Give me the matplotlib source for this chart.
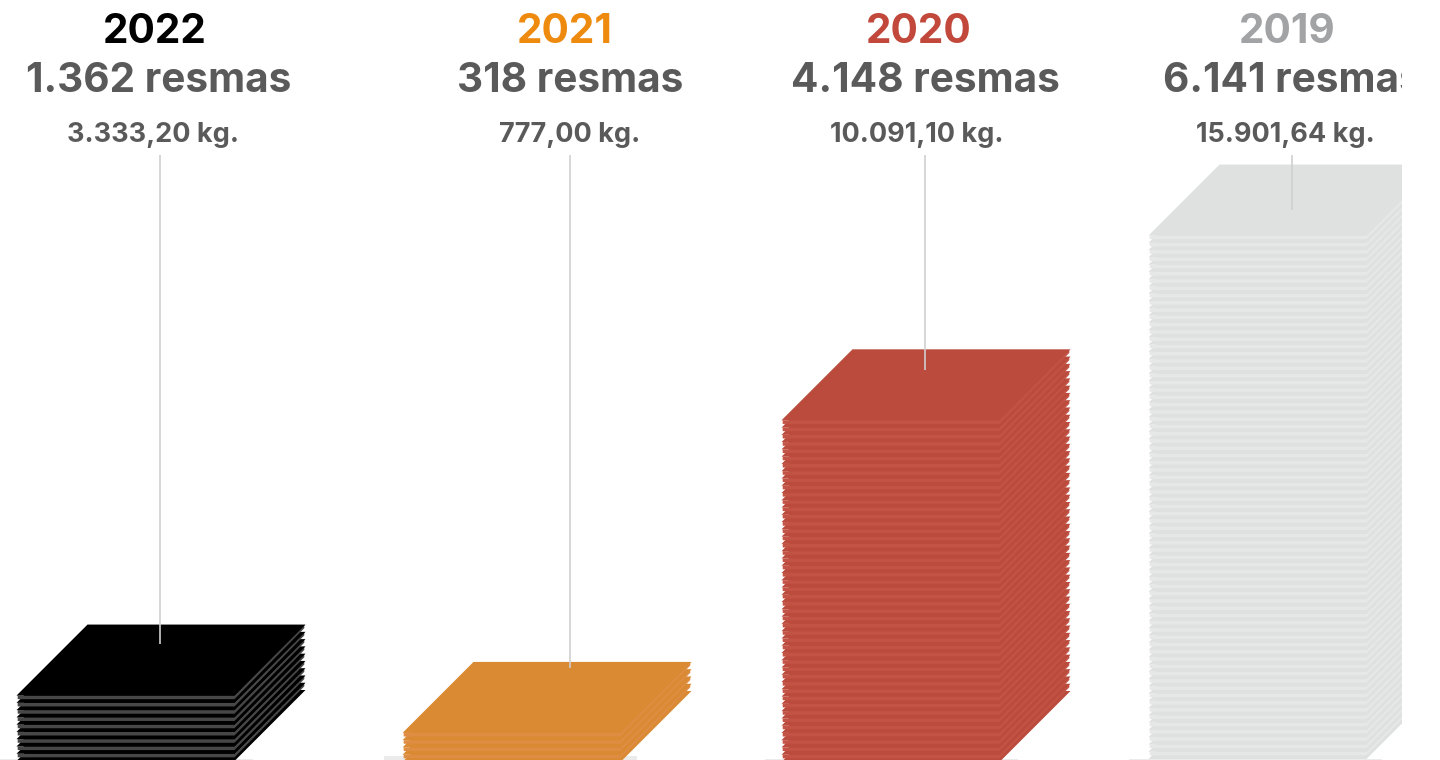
import matplotlib
matplotlib.use("Agg")
import matplotlib.pyplot as plt
from matplotlib.patches import Polygon, Rectangle

# --- data ---
years = ["2022", "2021", "2020", "2019"]
reams = ["1.362 resmas", "318 resmas", "4.148 resmas", "6.141 resmas"]
weights = ["3.333,20 kg.", "777,00 kg.", "10.091,10 kg.", "15.901,64 kg."]
sheets = [10, 5, 48, 73]

# --- layout, all in pixels of the 1440x760 picture ---
left_x = [16.5, 402.5, 781.5, 1148.5]
bottom_y = [761, 762, 762, 759]
shadow_x = [0, 384, 765, 1129]
shadow_y = [758.5, 756, 758.5, 759]
line_x = [160, 570, 925, 1292]
line_end = [644, 668, 370, 210]
year_x = [155, 565, 919, 1287]
ream_x = [159, 570, 925, 1292]
weight_x = [153, 570, 917, 1285]

year_colors = ["#000000", "#ee8a0e", "#c2483b", "#a2a3a5"]
top_colors = ["#000000", "#d98a32", "#bb4b3c", "#dfe1e0"]
edge_colors = ["#474747", "#de8d42", "#c25345", "#e6e8e7"]
text_color = "#5a5a5a"

pitch = 7.27
sheet_w = 218
depth = 71
inset = 1.2

plt.rcParams["font.family"] = ["Inter", "DejaVu Sans"]
fig = plt.figure(figsize=(14.4, 7.6), dpi=100)
ax = fig.add_axes([0, 0, 1402 / 1440, 1])
ax.set_xlim(0, 1402)
ax.set_ylim(760, 0)
ax.axis("off")

for i in range(len(years)):
    ax.add_patch(Rectangle((shadow_x[i], shadow_y[i]), 253, 5, color="#ebebeb", lw=0, zorder=1))

    # bottom sheet first, every next one lies on top of it
    for n in range(sheets[i]):
        x = left_x[i]
        y = bottom_y[i] - n * pitch
        # the lowest sheet has no visible edge, the page cuts it off
        band = 0 if n == 0 else 3.6
        ax.add_patch(Polygon(
            [(x + inset, y + band), (x + sheet_w, y + band), (x + sheet_w + depth - inset, y - depth + band),
             (x + sheet_w + depth - inset, y - depth), (x + sheet_w, y), (x + inset, y)],
            closed=True, fc=edge_colors[i], ec="none", zorder=2))
        ax.add_patch(Polygon(
            [(x, y), (x + sheet_w, y), (x + sheet_w + depth, y - depth), (x + depth, y - depth)],
            closed=True, fc=top_colors[i], ec="none", zorder=2))

    ax.plot([line_x[i], line_x[i]], [155, line_end[i]], color="#cfcfcf", lw=1.2,
            solid_capstyle="butt", zorder=3)

    ax.text(year_x[i], 43, years[i], color=year_colors[i], fontsize=29.2, fontweight="bold",
            ha="center", va="baseline", clip_on=True)
    ax.text(ream_x[i], 92, reams[i], color=text_color, fontsize=29.2, fontweight="bold",
            ha="center", va="baseline", clip_on=True)
    ax.text(weight_x[i], 142, weights[i], color=text_color, fontsize=19.5, fontweight="bold",
            ha="center", va="baseline", clip_on=True)

fig.savefig("out.png", dpi=100)
